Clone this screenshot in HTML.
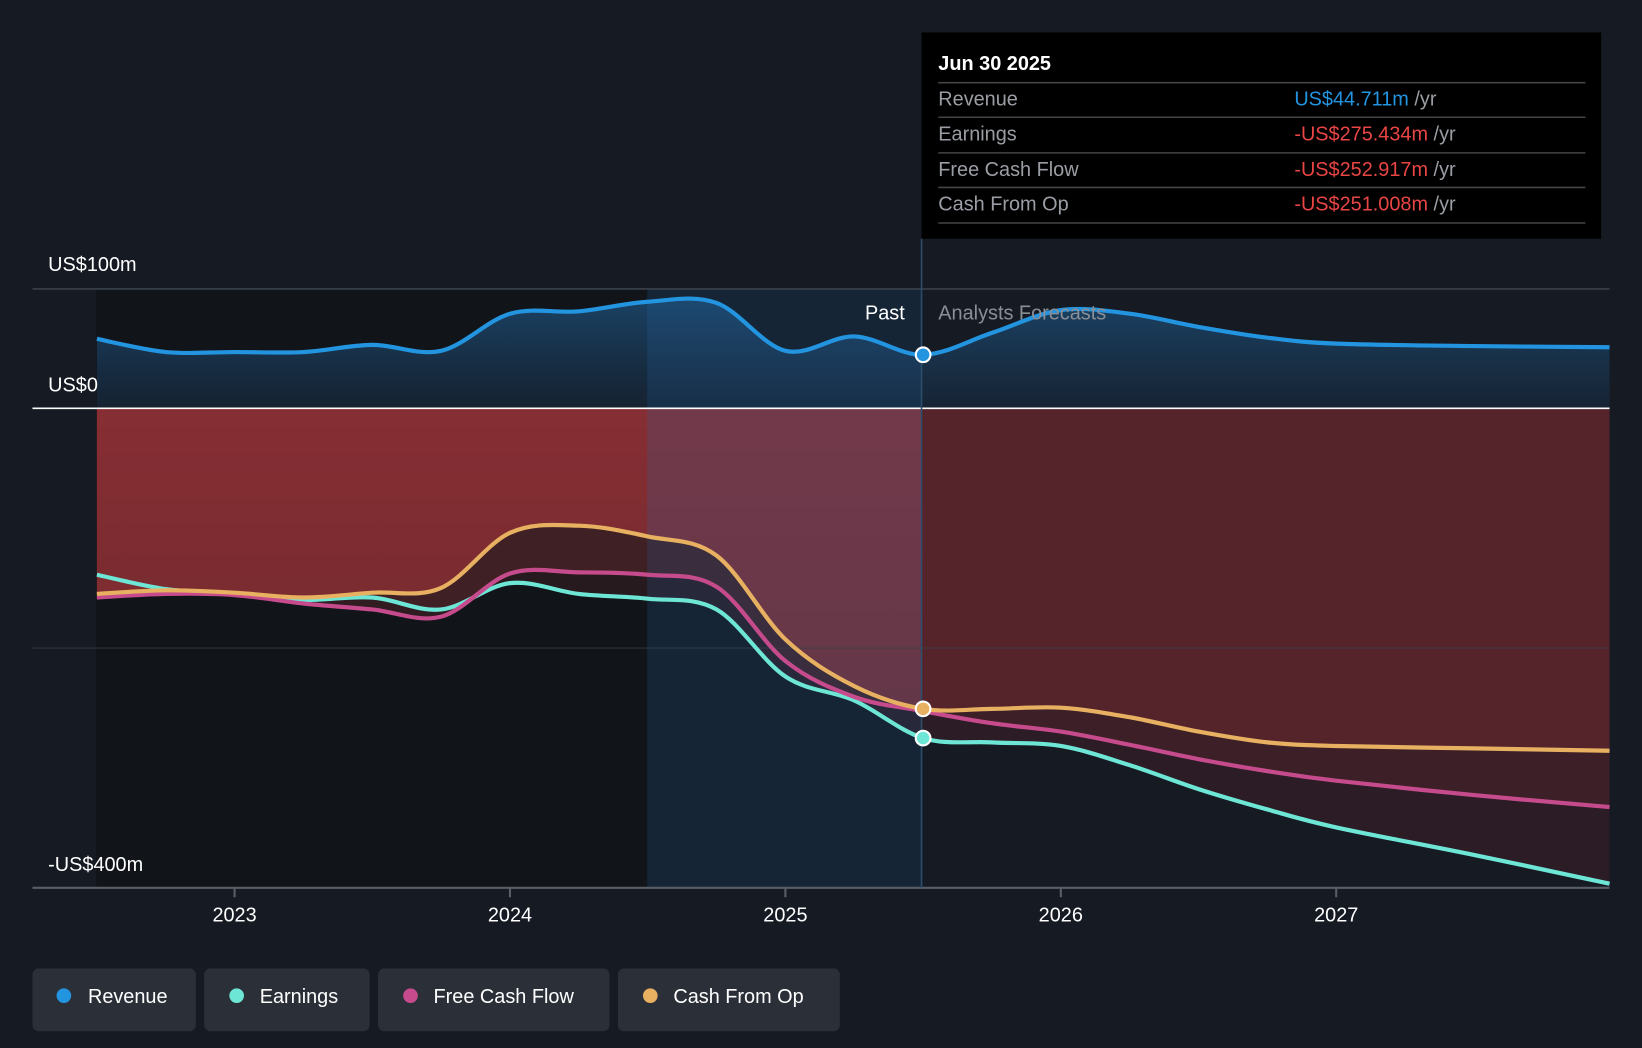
<!DOCTYPE html>
<html><head><meta charset="utf-8"><style>
html,body{margin:0;padding:0;background:#151a23;}
svg{display:block;font-family:"Liberation Sans",sans-serif;}
</style></head><body>
<svg id="chart" width="1642" height="1048" viewBox="0 0 1568 1001" preserveAspectRatio="none" xmlns="http://www.w3.org/2000/svg">
<defs>
<linearGradient id="revGrad" x1="0" y1="0" x2="0" y2="1"><stop offset="0" stop-color="#1c4a72" stop-opacity="0.85"/><stop offset="1" stop-color="#17283b" stop-opacity="0.7"/></linearGradient>
<linearGradient id="redPast" x1="0" y1="0" x2="0" y2="1"><stop offset="0" stop-color="#a33237"/><stop offset="1" stop-color="#782a30"/></linearGradient>
<clipPath id="clipPast"><rect x="0" y="0" width="880" height="1001"/></clipPath>
<clipPath id="clipFut"><rect x="880" y="0" width="700" height="1001"/></clipPath>
</defs>
<rect x="0" y="0" width="1568" height="1001" fill="#151a23"/>
<rect x="92" y="276" width="788" height="572" fill="#111419"/>
<g id="fills"></g>
<rect x="618" y="276" width="262" height="572" fill="#2a6aa8" fill-opacity="0.2"/>
<line x1="31" y1="276" x2="1537" y2="276" stroke="#3b414b" stroke-width="1.5"/>
<line x1="31" y1="619" x2="1537" y2="619" stroke="#3b414b" stroke-width="1" stroke-opacity="0.7"/>
<line x1="31" y1="390" x2="1537" y2="390" stroke="#ffffff" stroke-width="1.5"/>
<line x1="31" y1="848" x2="1537" y2="848" stroke="#5a5f67" stroke-width="2"/>
<line x1="880" y1="228" x2="880" y2="848" stroke="#2c4d6b" stroke-width="1.5"/>
<g id="lines"></g>
<g id="xticks"></g>
<text x="46" y="259" fill="#fff" font-size="19">US$100m</text>
<text x="46" y="374" fill="#fff" font-size="19">US$0</text>
<text x="46" y="832" fill="#fff" font-size="19">-US$400m</text>
<text x="864" y="305" fill="#fff" font-size="19" text-anchor="end">Past</text>
<text x="896" y="305" fill="#8a8f97" font-size="19">Analysts Forecasts</text>
<g id="dots"></g>
<g>
<rect x="880" y="31" width="649" height="197" fill="#000"/>
<text x="896" y="67" fill="#fff" font-size="19" font-weight="bold">Jun 30 2025</text>
<line x1="896" y1="79" x2="1514" y2="79" stroke="#444" stroke-width="1.5"/>
<text x="896" y="101" fill="#9a9ea4" font-size="19">Revenue</text>
<text x="1236" y="101" font-size="19"><tspan fill="#2394df">US$44.711m</tspan><tspan fill="#9a9ea4"> /yr</tspan></text>
<line x1="896" y1="112" x2="1514" y2="112" stroke="#444" stroke-width="1.5"/>
<text x="896" y="134" fill="#9a9ea4" font-size="19">Earnings</text>
<text x="1236" y="134" font-size="19"><tspan fill="#e84545">-US$275.434m</tspan><tspan fill="#9a9ea4"> /yr</tspan></text>
<line x1="896" y1="146" x2="1514" y2="146" stroke="#444" stroke-width="1.5"/>
<text x="896" y="168" fill="#9a9ea4" font-size="19">Free Cash Flow</text>
<text x="1236" y="168" font-size="19"><tspan fill="#e84545">-US$252.917m</tspan><tspan fill="#9a9ea4"> /yr</tspan></text>
<line x1="896" y1="179" x2="1514" y2="179" stroke="#444" stroke-width="1.5"/>
<text x="896" y="201" fill="#9a9ea4" font-size="19">Cash From Op</text>
<text x="1236" y="201" font-size="19"><tspan fill="#e84545">-US$251.008m</tspan><tspan fill="#9a9ea4"> /yr</tspan></text>
<line x1="896" y1="213" x2="1514" y2="213" stroke="#444" stroke-width="1.5"/>
</g>
<g>
<g><rect x="31" y="925" width="156" height="60" rx="6" fill="#2a2f38"/><circle cx="61" cy="951" r="7" fill="#2394df"/><text x="84" y="958" fill="#fff" font-size="19">Revenue</text></g>
<g><rect x="195" y="925" width="158" height="60" rx="6" fill="#2a2f38"/><circle cx="226" cy="951" r="7" fill="#6ee6d6"/><text x="248" y="958" fill="#fff" font-size="19">Earnings</text></g>
<g><rect x="361" y="925" width="221" height="60" rx="6" fill="#2a2f38"/><circle cx="392" cy="951" r="7" fill="#c64b8c"/><text x="414" y="958" fill="#fff" font-size="19">Free Cash Flow</text></g>
<g><rect x="590" y="925" width="212" height="60" rx="6" fill="#2a2f38"/><circle cx="621" cy="951" r="7" fill="#e8b061"/><text x="643" y="958" fill="#fff" font-size="19">Cash From Op</text></g>
</g>
</svg>
<script>
const years = [2022.5,2022.75,2023,2023.25,2023.5,2023.75,2024,2024.25,2024.5,2024.75,2025,2025.25,2025.5,2025.75,2026,2026.25,2026.5,2026.75,2027,2027.5,2028];
const revenue = [58,47,47,47,53,48,79,81,89,88,48,60,44.7,63,82,79,68,59,54,52,51];
const earnings = [-139,-151,-155,-160,-158,-168,-146,-155,-159,-168,-224,-244,-275.4,-279,-282,-298,-318,-335,-350,-373,-397];
const fcf = [-158,-155,-156,-163,-168,-174,-138,-137,-139,-149,-211,-241,-252.9,-263,-270,-281,-293,-303,-311,-323,-333];
const cfo = [-155,-152,-154,-158,-154,-150,-104,-98,-107,-123,-193,-232,-251,-251,-250,-258,-270,-279,-282,-284,-286];
const tickYears = [2023,2024,2025,2026,2027];
const tickLabels = ["2023","2024","2025","2026","2027"];
const NOW = 2025.5;

const NS="http://www.w3.org/2000/svg";
function xs(t){return 224+(t-2023)*263;}
function ys(v){return 390-v*1.1437;}
function pts(vals){return vals.map((v,i)=>[Math.min(xs(years[i]),1537),ys(v)]);}
function curve(p){
  let d="M"+p[0][0]+","+p[0][1];
  for(let i=0;i<p.length-1;i++){
    const p0=p[Math.max(i-1,0)],p1=p[i],p2=p[i+1],p3=p[Math.min(i+2,p.length-1)];
    const c1=[p1[0]+(p2[0]-p0[0])/6,p1[1]+(p2[1]-p0[1])/6];
    const c2=[p2[0]-(p3[0]-p1[0])/6,p2[1]-(p3[1]-p1[1])/6];
    d+=" C"+c1[0]+","+c1[1]+" "+c2[0]+","+c2[1]+" "+p2[0]+","+p2[1];
  }
  return d;
}
function areaToZero(vals){
  const p=pts(vals);
  return curve(p)+" L"+p[p.length-1][0]+","+ys(0)+" L"+p[0][0]+","+ys(0)+" Z";
}
const fills=document.getElementById('fills');
function addPath(parent,d,attrs){
  const e=document.createElementNS(NS,'path');
  e.setAttribute('d',d);
  for(const k in attrs)e.setAttribute(k,attrs[k]);
  parent.appendChild(e);return e;
}
let e;
e=addPath(fills,areaToZero(revenue),{fill:'url(#revGrad)'});


e=addPath(fills,areaToZero(cfo),{fill:'url(#redPast)','clip-path':'url(#clipPast)'});


e=addPath(fills,areaToZero(fcf),{fill:'#6a2a30','fill-opacity':'0.35','clip-path':'url(#clipPast)'});


e=addPath(fills,areaToZero(earnings),{fill:'#6a2a30','fill-opacity':'0.25','clip-path':'url(#clipPast)'});


e=addPath(fills,areaToZero(earnings),{fill:'#3a1e26','fill-opacity':'0.6','clip-path':'url(#clipFut)'});


e=addPath(fills,areaToZero(fcf),{fill:'#4a2229','fill-opacity':'0.6','clip-path':'url(#clipFut)'});


e=addPath(fills,areaToZero(cfo),{fill:'#5e272e','fill-opacity':'0.75','clip-path':'url(#clipFut)'});



const lines=document.getElementById('lines');
e=addPath(lines,curve(pts(revenue)),{fill:'none',stroke:'#2394df','stroke-width':'4'});


e=addPath(lines,curve(pts(earnings)),{fill:'none',stroke:'#6ee6d6','stroke-width':'4'});


e=addPath(lines,curve(pts(fcf)),{fill:'none',stroke:'#c64b8c','stroke-width':'4'});


e=addPath(lines,curve(pts(cfo)),{fill:'none',stroke:'#e8b061','stroke-width':'4'});



const xt=document.getElementById('xticks');
tickYears.forEach((t,i)=>{
  const l=document.createElementNS(NS,'line');
  l.setAttribute('x1',xs(t));l.setAttribute('x2',xs(t));l.setAttribute('y1',848);l.setAttribute('y2',857);
  l.setAttribute('stroke','#5a5f67');l.setAttribute('stroke-width','2');
  
  
  xt.appendChild(l);
  const tx=document.createElementNS(NS,'text');
  tx.setAttribute('x',xs(t));tx.setAttribute('y',880);tx.setAttribute('fill','#fff');
  tx.setAttribute('font-size','19');tx.setAttribute('text-anchor','middle');
  tx.textContent=tickLabels[i];
  
  
  xt.appendChild(tx);
});
const dots=document.getElementById('dots');
const ni=years.indexOf(NOW);
[[revenue,'#2394df'],[cfo,'#e8b061'],[earnings,'#6ee6d6']].forEach(([s,c])=>{
  const ci=document.createElementNS(NS,'circle');
  ci.setAttribute('cx',xs(NOW));ci.setAttribute('cy',ys(s[ni]));ci.setAttribute('r',7);
  ci.setAttribute('fill',c);ci.setAttribute('stroke','#fff');ci.setAttribute('stroke-width','2');
  
  
  dots.appendChild(ci);
});
</script>
</body></html>
